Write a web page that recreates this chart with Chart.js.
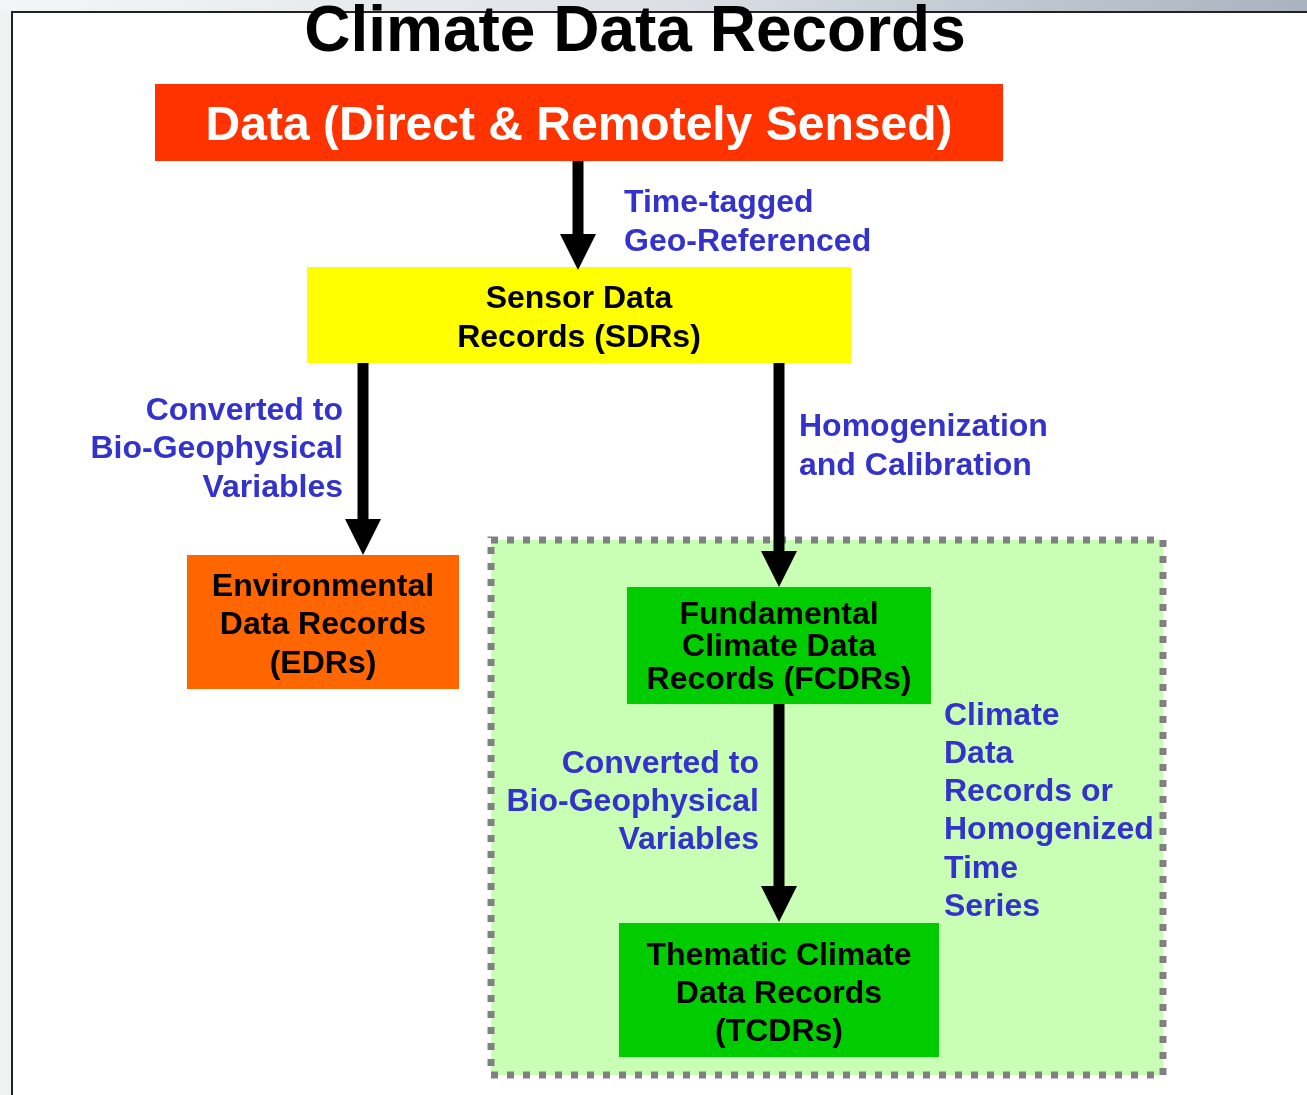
<!DOCTYPE html>
<html>
<head>
<meta charset="utf-8">
<script src="https://cdn.jsdelivr.net/npm/chart.js@4/dist/chart.umd.min.js"></script>
<style>
  html, body { margin: 0; padding: 0; background: #fff; }
  canvas { display: block; }
</style>
</head>
<body>
<canvas id="c" width="1307" height="1095"></canvas>
<script>
// boxes of the diagram: [left, top, right, bottom] in page units
var boxNames  = ['group', 'data', 'sdr', 'edr', 'fcdr', 'tcdr'];
var boxRects  = [[491, 540, 1163, 1075], [155, 84, 1003, 161], [307, 267, 851, 363],
                 [187, 555, 459, 689], [627, 587, 931, 704], [619, 923, 939, 1057]];
var boxColors = ['#c8ffb4', '#ff3300', '#ffff00', '#ff6600', '#00cc00', '#00cc00'];

// arrows: x position, start y, tip y
var arrowX    = [578, 363, 779, 779];
var arrowFrom = [161, 363, 363, 704];
var arrowTo   = [270, 555, 587, 922];

// text blocks: first line position, alignment, colour, lines
var blue = '#3333cc';
var textBlocks = [
  { x: 579, y: 127, align: 'center', color: '#fff', size: 48, gap: 0,
    lines: ['Data (Direct & Remotely Sensed)'] },
  { x: 624, y: 203, align: 'left', color: blue, size: 32, gap: 39,
    lines: ['Time-tagged', 'Geo-Referenced'] },
  { x: 579, y: 299, align: 'center', color: '#000', size: 32, gap: 39,
    lines: ['Sensor Data', 'Records (SDRs)'] },
  { x: 343, y: 411, align: 'right', color: blue, size: 32, gap: 38.5,
    lines: ['Converted to', 'Bio-Geophysical', 'Variables'] },
  { x: 799, y: 427, align: 'left', color: blue, size: 32, gap: 39,
    lines: ['Homogenization', 'and Calibration'] },
  { x: 323, y: 587, align: 'center', color: '#000', size: 32, gap: 38.5,
    lines: ['Environmental', 'Data Records', '(EDRs)'] },
  { x: 779, y: 615, align: 'center', color: '#000', size: 32, gap: 32.5,
    lines: ['Fundamental', 'Climate Data', 'Records (FCDRs)'] },
  { x: 759, y: 764, align: 'right', color: blue, size: 32, gap: 38,
    lines: ['Converted to', 'Bio-Geophysical', 'Variables'] },
  { x: 944, y: 716, align: 'left', color: blue, size: 32, gap: 38.2,
    lines: ['Climate', 'Data', 'Records or', 'Homogenized', 'Time', 'Series'] },
  { x: 779, y: 956, align: 'center', color: '#000', size: 32, gap: 38,
    lines: ['Thematic Climate', 'Data Records', '(TCDRs)'] }
];
var title = 'Climate Data Records';

var FONT = '"Liberation Sans", Arial, sans-serif';
var SHAFT = 5.5, HEAD_W = 18, HEAD_H = 36;

var datasets = [];

// filled rectangles (top edge line, filled down to the bottom value)
boxRects.forEach(function (r, i) {
  datasets.push({
    label: boxNames[i],
    data: [{ x: r[0], y: r[1] }, { x: r[2], y: r[1] }],
    fill: { value: r[3] },
    backgroundColor: boxColors[i],
    borderWidth: 0,
    pointRadius: 0
  });
  // dotted grey frame round the climate group
  if (i === 0) {
    datasets.push({
      label: 'group frame',
      data: [{ x: r[0], y: r[1] }, { x: r[2], y: r[1] }, { x: r[2], y: r[3] },
             { x: r[0], y: r[3] }, { x: r[0], y: r[1] - 3.5 }],
      fill: false,
      borderColor: '#808080',
      borderWidth: 7,
      borderDash: [7, 9],
      pointRadius: 0
    });
  }
});

// arrows as filled polygons
arrowX.forEach(function (x, i) {
  var y0 = arrowFrom[i], tip = arrowTo[i], hb = tip - HEAD_H;
  datasets.push({
    label: 'arrow' + i,
    data: [{ x: x - SHAFT, y: y0 }, { x: x + SHAFT, y: y0 }, { x: x + SHAFT, y: hb },
           { x: x + HEAD_W, y: hb }, { x: x, y: tip }, { x: x - HEAD_W, y: hb },
           { x: x - SHAFT, y: hb }, { x: x - SHAFT, y: y0 }],
    fill: 'shape',
    backgroundColor: '#000',
    borderColor: '#000',
    borderWidth: 0,
    pointRadius: 0
  });
});

// later datasets on top
datasets.forEach(function (d, i) { d.order = datasets.length - i; });

var backdrop = {
  id: 'backdrop',
  beforeDraw: function (chart) {
    var c = chart.ctx, w = chart.width, h = chart.height;
    c.save();
    c.fillStyle = '#fff';
    c.fillRect(0, 0, w, h);
    var g = c.createLinearGradient(0, 0, w, 0);
    g.addColorStop(0, '#f4f5f7');
    g.addColorStop(0.5, '#dde1e6');
    g.addColorStop(1, '#a9b2bf');
    c.fillStyle = g;
    c.fillRect(0, 0, w, 11);
    c.fillStyle = '#f1f2f4';
    c.fillRect(0, 11, 11, h - 11);
    c.strokeStyle = '#222';
    c.lineWidth = 2;
    c.beginPath();
    c.moveTo(w, 12);
    c.lineTo(12, 12);
    c.lineTo(12, h);
    c.stroke();
    c.restore();
  }
};

var labels = {
  id: 'labels',
  afterDatasetsDraw: function (chart) {
    var c = chart.ctx, xs = chart.scales.x, ys = chart.scales.y;
    c.save();
    c.textBaseline = 'middle';
    c.font = 'bold 64px ' + FONT;
    c.fillStyle = '#000';
    c.textAlign = 'center';
    c.fillText(title, xs.getPixelForValue(635), ys.getPixelForValue(33));
    textBlocks.forEach(function (b) {
      c.font = 'bold ' + b.size + 'px ' + FONT;
      c.fillStyle = b.color;
      c.textAlign = b.align;
      b.lines.forEach(function (t, k) {
        c.fillText(t, xs.getPixelForValue(b.x), ys.getPixelForValue(b.y + k * b.gap));
      });
    });
    c.restore();
  }
};

new Chart(document.getElementById('c'), {
  type: 'scatter',
  data: { datasets: datasets },
  options: {
    responsive: false,
    animation: false,
    devicePixelRatio: 1,
    layout: { padding: 0 },
    showLine: true,
    plugins: { legend: { display: false }, tooltip: { enabled: false } },
    scales: {
      x: { type: 'linear', min: 0, max: 1307, display: false },
      y: { type: 'linear', min: 0, max: 1095, reverse: true, display: false }
    }
  },
  plugins: [backdrop, labels]
});
</script>
</body>
</html>
